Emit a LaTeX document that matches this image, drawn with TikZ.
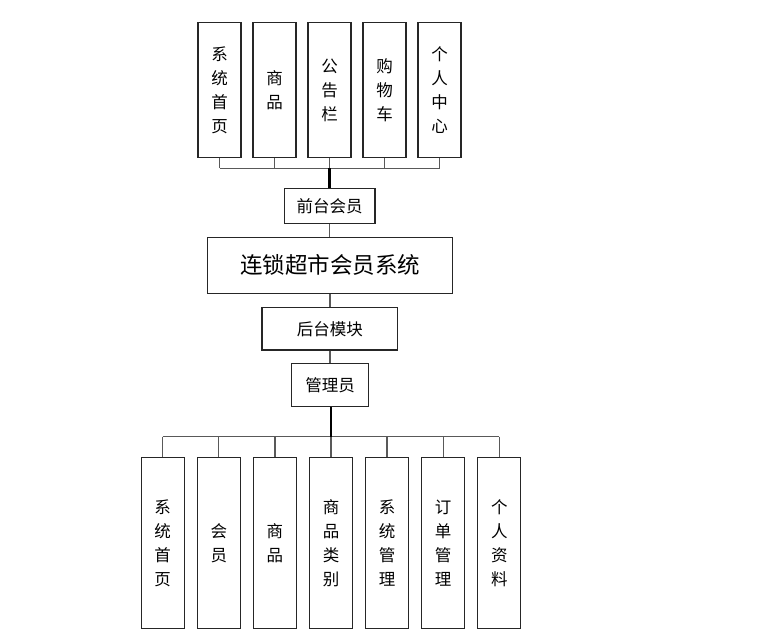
\documentclass[tikz,border=0pt]{standalone}
\usepackage{fontspec}
\newfontfamily\cjk{Noto Sans CJK SC}
\begin{document}
\begin{tikzpicture}[x=1pt,y=-1pt,
  box/.style={draw=black!85,line width=1.2pt,fill=white,inner sep=0pt,align=center,font=\cjk\fontsize{16.5}{24}\selectfont},
  vbox/.style={box,minimum width=43pt,minimum height=171pt},
  tbox/.style={box,minimum width=43pt,minimum height=135.5pt},
  conn/.style={draw=black!65,line width=1.3pt},
  thick conn/.style={draw=black,line width=2.2pt}]
\useasboundingbox (0,0) rectangle (766,637);
% top modules
\node[tbox] (t1) at (219.5,90) {系\\统\\首\\页};
\node[tbox] (t2) at (274.5,90) {商\\品};
\node[tbox] (t3) at (329.5,90) {公\\告\\栏};
\node[tbox] (t4) at (384.5,90) {购\\物\\车};
\node[tbox] (t5) at (439.5,90) {个\\人\\中\\心};
\node[box,minimum width=90.7pt,minimum height=35pt] (fq) at (329.7,205.8) {前台会员};
\node[box,minimum width=244.6pt,minimum height=56pt,font=\cjk\fontsize{22.5}{26}\selectfont] (sys) at (330,265.3) {连锁超市会员系统};
\node[box,minimum width=135.7pt,minimum height=42.3pt] (ht) at (329.9,328.8) {后台模块};
\node[box,minimum width=77.4pt,minimum height=43pt] (gly) at (330,385.2) {管理员};
% bottom modules
\node[vbox] (b1) at (162.7,543) {系\\统\\首\\页};
\node[vbox] (b2) at (218.8,543) {会\\员};
\node[vbox] (b3) at (274.9,543) {商\\品};
\node[vbox] (b4) at (331.0,543) {商\\品\\类\\别};
\node[vbox] (b5) at (387.1,543) {系\\统\\管\\理};
\node[vbox] (b6) at (443.2,543) {订\\单\\管\\理};
\node[vbox] (b7) at (499.3,543) {个\\人\\资\\料};
\coordinate (topbus) at (329.5,168.3);
\coordinate (botbus) at (330.8,436.7);
% top connectors
\foreach \n in {t1,t2,t3,t4,t5}{\draw[conn] (\n.south) -- (\n.south |- topbus);}
\draw[conn] (t1.south |- topbus) -- (t5.south |- topbus);
\draw[thick conn] (topbus) -- (topbus |- fq.north);
\draw[conn] (fq.south) -- (fq.south |- sys.north);
\draw[conn] (sys.south) -- (sys.south |- ht.north);
\draw[conn] (ht.south) -- (ht.south |- gly.north);
% bottom connectors
\foreach \n in {b1,b2,b3,b4,b5,b6,b7}{\draw[conn] (\n.north |- botbus) -- (\n.north);}
\draw[conn] (b1.north |- botbus) -- (b7.north |- botbus);
\draw[thick conn] (gly.south -| botbus) -- (botbus);
\end{tikzpicture}
\end{document}
